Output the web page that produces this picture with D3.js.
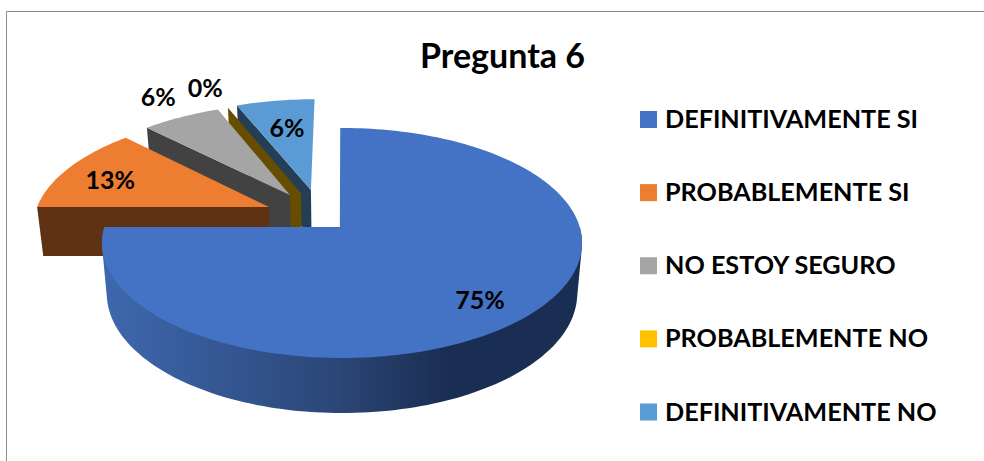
<!DOCTYPE html>
<html>
<head>
<meta charset="utf-8">
<script src="https://cdn.jsdelivr.net/npm/d3@7"></script>
<style>
  html, body { margin: 0; padding: 0; background: #fff; }
  svg { display: block; }
  text { font-family: Lato, Carlito, sans-serif; font-weight: 700; fill: #000; }
</style>
</head>
<body>
<script>
const categories = ["DEFINITIVAMENTE SI", "PROBABLEMENTE SI", "NO ESTOY SEGURO", "PROBABLEMENTE NO", "DEFINITIVAMENTE NO"]
const values = [75, 12.5, 6.25, 0, 6.25]
const colors = ["#4472c4", "#ed7d31", "#a5a5a5", "#ffc000", "#5b9bd5"]
const title = "Pregunta 6"

const width = 984, height = 461

// how far each slice is pulled out, in units of the pie radius [across, into the page]
const explode = [[-0.009, 0], [-0.315, -0.182], [-0.228, -0.295], [-0.18, -0.3145], [-0.137, -0.344]]
// where each % label sits, same units
const labelAt = [[0.533, 0.585], [-1.036, -0.45], [-0.921, -1.38], [-0.695, -1.495], [-0.264, -1.01]]
// the big slice starts a hair before 12 o'clock in the original
const startNudge = 0.0085
// rim of the big slice only shows from 3 o'clock round to its end
const rimFrom = Math.PI / 2

// perspective of the tilted disc
const cx = 342, cy = 227
const persp = 0.139, scaleU = 237.7, scaleV = 112.8
const project = (u, v) => {
  const w = 1 - persp * v
  return [scaleU * u / w, scaleV * v / w]
}
const top3d = (u, v) => {
  const [x, y] = project(u, v)
  return [cx + x, cy + y]
}
const bottom3d = (u, v) => {
  const [x, y] = project(u, v)
  return [cx + x * 0.98, cy + y * 1.04 + 49.8]
}

const svg = d3.select("body").append("svg")
  .attr("width", width)
  .attr("height", height)

// chart border, only the top and left show up in the crop
svg.append("path")
  .attr("d", `M6.5,${height}V11.5H${width}`)
  .attr("fill", "none")
  .attr("stroke", "#8c8c8c")
  .attr("stroke-width", 1)

// rim shading of the big slice
const grad = svg.append("defs").append("linearGradient")
  .attr("id", "rim")
  .attr("gradientUnits", "userSpaceOnUse")
  .attr("x1", 103).attr("x2", 583).attr("y1", 0).attr("y2", 0)
grad.append("stop").attr("offset", 0).attr("stop-color", "#3e68ae")
grad.append("stop").attr("offset", 0.49).attr("stop-color", "#2b4677")
grad.append("stop").attr("offset", 0.72).attr("stop-color", "#1a2d52")
grad.append("stop").attr("offset", 1).attr("stop-color", "#1a2d52")

const slices = d3.pie().sort(null)(values)
const line = d3.line()
const wallColor = c => {
  const r = d3.rgb(c)
  return d3.rgb(r.r * 0.4, r.g * 0.4, r.b * 0.4).formatHex()
}

// unit circle points between two angles, moved out by the slice's explode vector
const arcPoints = (a0, a1, i) => {
  const n = Math.max(2, Math.ceil((a1 - a0) * 40))
  // the big slice is round the true centre, only its corner sits off to the left
  const off = i === 0 ? [0, 0] : explode[i]
  return d3.range(n + 1).map(k => {
    const a = a0 + (a1 - a0) * k / n
    return [Math.sin(a) + off[0], -Math.cos(a) + off[1]]
  })
}
const flat = (pts, f) => pts.map(p => f(p[0], p[1]))

const pieG = svg.append("g").attr("id", "pie")

// back slices first, the big one goes on top of them
d3.range(slices.length).reverse().forEach(i => {
  const s = slices[i]
  const start = i === 0 ? s.startAngle - startNudge : s.startAngle
  const rim = arcPoints(start, s.endAngle, i)
  const hub = explode[i]

  if (i > 0) {
    // only the wall along the start edge can be seen on the pulled out slices
    const p = rim[0]
    const wall = [top3d(hub[0], hub[1]), top3d(p[0], p[1]), bottom3d(p[0], p[1]), bottom3d(hub[0], hub[1])]
    pieG.append("path")
      .attr("d", line(wall) + "Z")
      .attr("fill", wallColor(colors[i]))
  } else {
    // hull of both rings, fills the silhouette at the widest points too
    const front = arcPoints(rimFrom, s.endAngle, i)
    const hull = d3.polygonHull([...flat(front, top3d), ...flat(front, bottom3d)])
    pieG.append("path")
      .attr("d", line(hull) + "Z")
      .attr("fill", "url(#rim)")
  }

  // top face
  pieG.append("path")
    .attr("d", line([top3d(hub[0], hub[1]), ...flat(rim, top3d)]) + "Z")
    .attr("fill", colors[i])
})

// % labels
svg.append("g").selectAll("text")
  .data(values)
  .enter().append("text")
  .attr("x", (d, i) => top3d(labelAt[i][0], labelAt[i][1])[0])
  .attr("y", (d, i) => top3d(labelAt[i][0], labelAt[i][1])[1])
  .attr("text-anchor", "middle")
  .attr("dominant-baseline", "central")
  .style("font-size", "25px")
  .text(d => d3.format(".0f")(d) + "%")

// title
svg.append("text")
  .attr("x", 502.5)
  .attr("y", 68)
  .attr("text-anchor", "middle")
  .style("font-size", "34px")
  .text(title)

// legend
const legendY = d3.scalePoint().domain(categories).range([119.5, 412])
const legend = svg.append("g").selectAll("g")
  .data(categories)
  .enter().append("g")
  .attr("transform", d => `translate(640,${legendY(d)})`)
legend.append("rect")
  .attr("y", -8.5)
  .attr("width", 17)
  .attr("height", 17)
  .attr("fill", (d, i) => colors[i])
legend.append("text")
  .attr("x", 25)
  .attr("y", -1.5)
  .attr("dominant-baseline", "central")
  .style("font-size", "25.2px")
  .text(d => d)
</script>
</body>
</html>
